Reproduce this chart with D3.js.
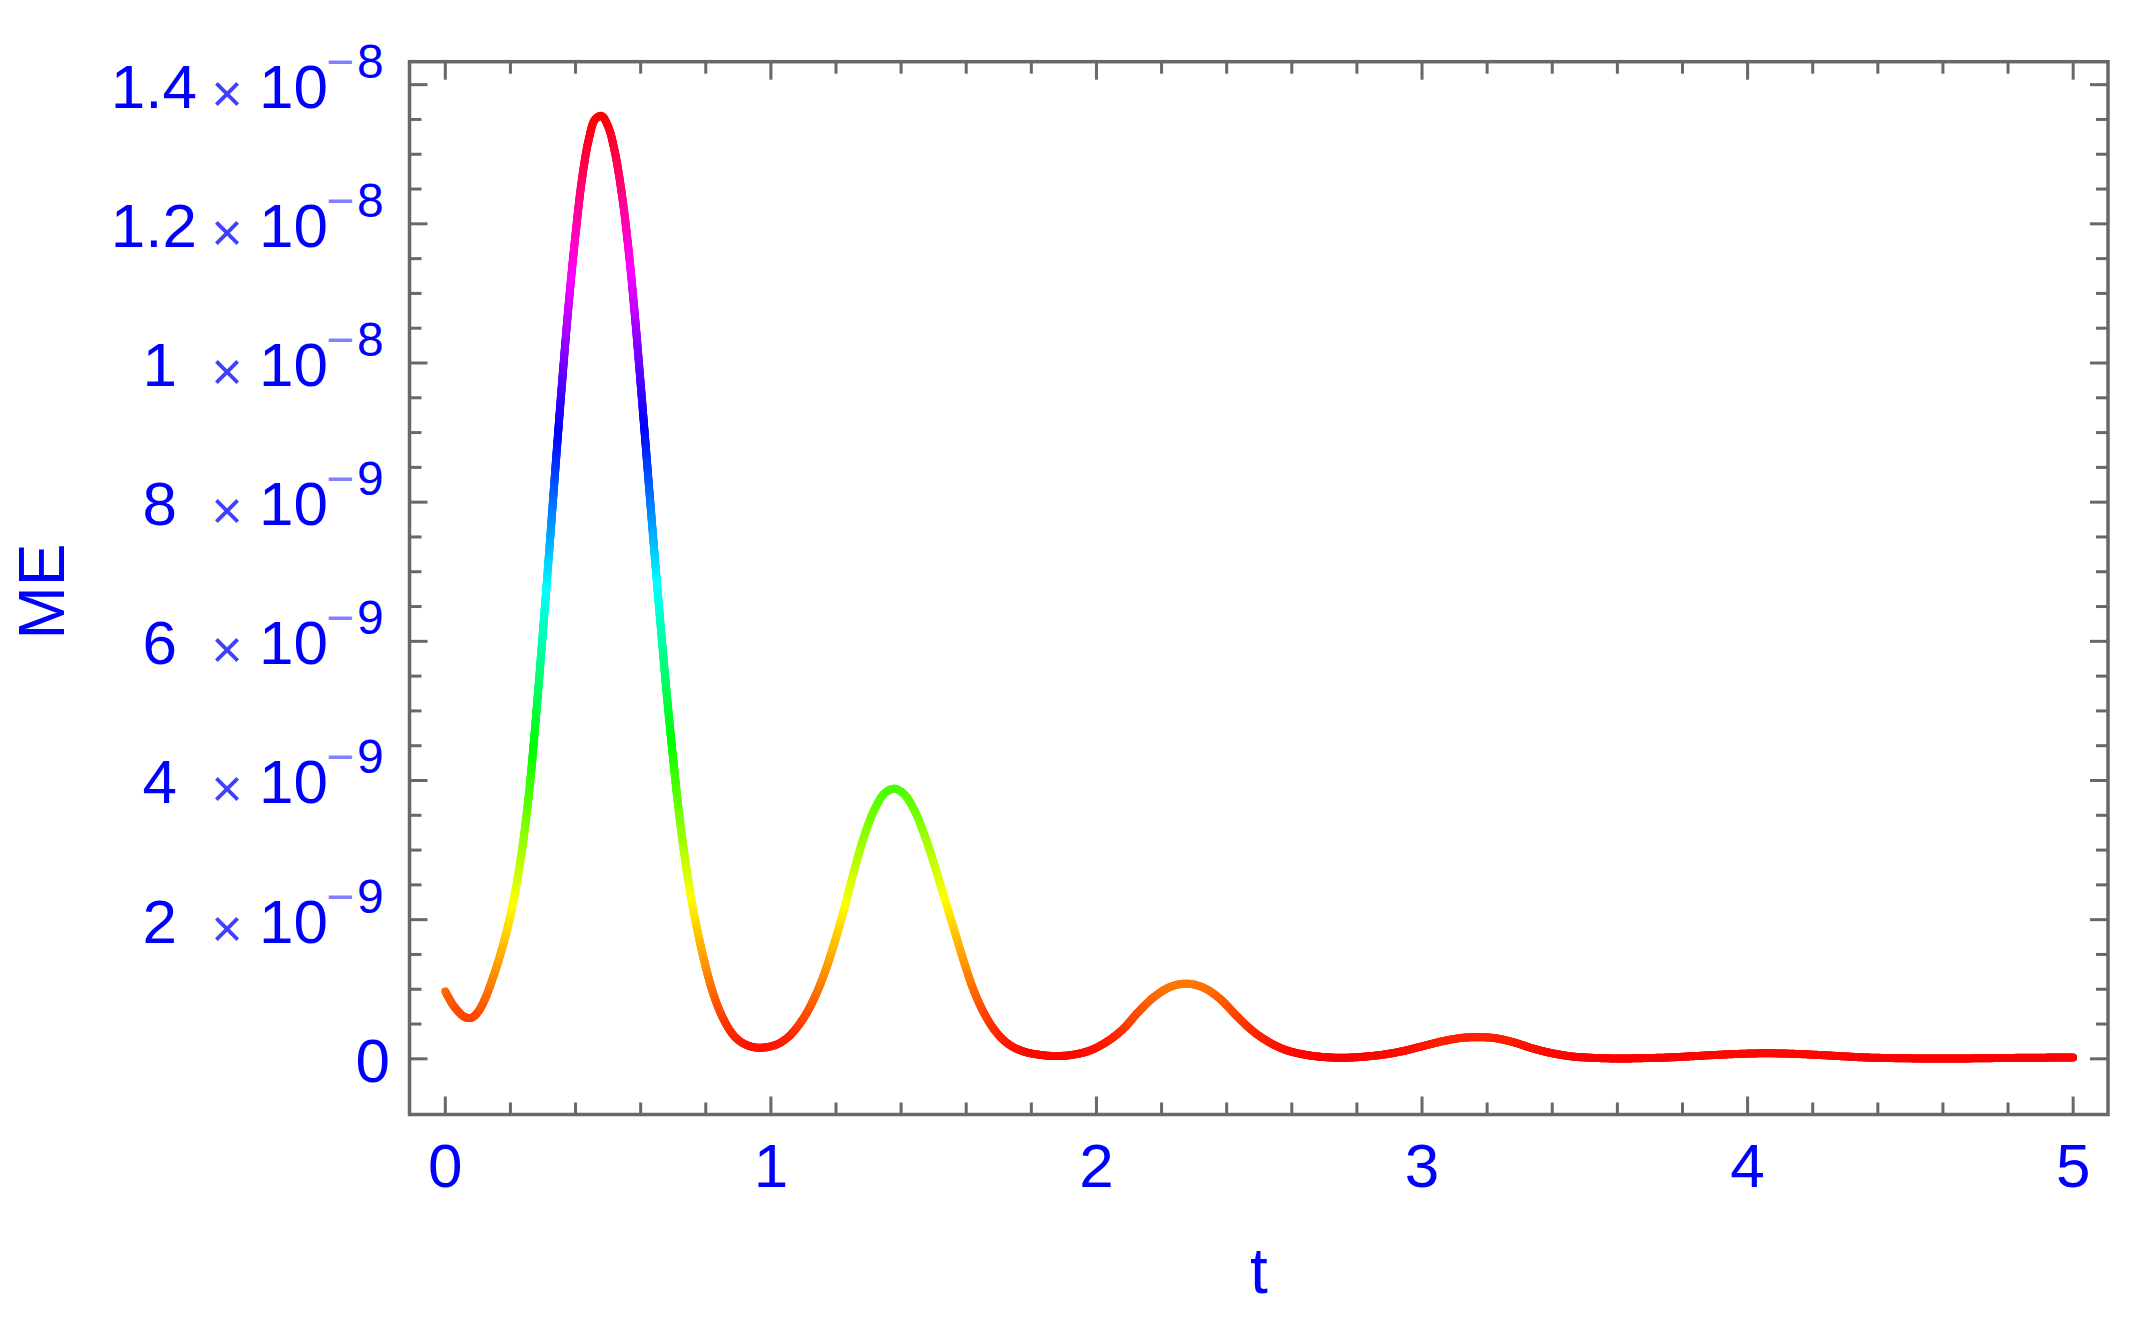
<!DOCTYPE html>
<html>
<head>
<meta charset="utf-8">
<script src="https://cdn.jsdelivr.net/npm/d3@7"></script>
<style>
  html, body { margin: 0; padding: 0; background: #ffffff; }
  svg { display: block; }
  text { font-family: "Liberation Sans", Arial, sans-serif; }
</style>
</head>
<body>
<script>
// ---- data ----
const tValues = [
  0.00, 0.02, 0.04, 0.06, 0.08, 0.10, 0.12, 0.14, 0.16, 0.18,
  0.20, 0.22, 0.24, 0.26, 0.28, 0.30, 0.32, 0.34, 0.36, 0.38,
  0.40, 0.42, 0.44, 0.46, 0.48, 0.50, 0.52, 0.54, 0.56, 0.58,
  0.60, 0.62, 0.64, 0.66, 0.68, 0.70, 0.72, 0.74, 0.76, 0.78,
  0.80, 0.82, 0.84, 0.86, 0.88, 0.90, 0.93, 0.96, 0.99, 1.02,
  1.05, 1.08, 1.11, 1.14, 1.17, 1.20, 1.23, 1.26, 1.29, 1.32,
  1.35, 1.38, 1.41, 1.44, 1.47, 1.50, 1.53, 1.56, 1.59, 1.62,
  1.65, 1.68, 1.71, 1.74, 1.78, 1.83, 1.88, 1.93, 1.98, 2.03,
  2.08, 2.13, 2.18, 2.23, 2.28, 2.33, 2.38, 2.43, 2.48, 2.53,
  2.58, 2.64, 2.70, 2.76, 2.82, 2.88, 2.94, 3.00, 3.06, 3.12,
  3.17, 3.22, 3.28, 3.34, 3.40, 3.46, 3.52, 3.60, 3.68, 3.76,
  3.84, 3.92, 4.00, 4.06, 4.12, 4.20, 4.28, 4.36, 4.45, 4.55,
  4.65, 4.75, 4.85, 5.00
];
const meValues = [
  0.97e-9, 0.80e-9, 0.68e-9, 0.60e-9, 0.59e-9, 0.67e-9, 0.84e-9, 1.08e-9, 1.36e-9, 1.68e-9,
  2.06e-9, 2.54e-9, 3.15e-9, 3.95e-9, 5.00e-9, 6.15e-9, 7.35e-9, 8.60e-9, 9.80e-9, 10.90e-9,
  11.85e-9, 12.65e-9, 13.20e-9, 13.50e-9, 13.55e-9, 13.40e-9, 13.05e-9, 12.50e-9, 11.75e-9, 10.80e-9,
  9.70e-9, 8.55e-9, 7.40e-9, 6.30e-9, 5.25e-9, 4.30e-9, 3.45e-9, 2.75e-9, 2.18e-9, 1.72e-9,
  1.32e-9, 0.98e-9, 0.72e-9, 0.52e-9, 0.37e-9, 0.27e-9, 0.19e-9, 0.16e-9, 0.17e-9, 0.21e-9,
  0.30e-9, 0.45e-9, 0.66e-9, 0.94e-9, 1.30e-9, 1.74e-9, 2.24e-9, 2.78e-9, 3.25e-9, 3.60e-9,
  3.82e-9, 3.88e-9, 3.80e-9, 3.58e-9, 3.24e-9, 2.82e-9, 2.36e-9, 1.90e-9, 1.44e-9, 1.02e-9,
  0.70e-9, 0.46e-9, 0.29e-9, 0.18e-9, 0.10e-9, 0.055e-9, 0.04e-9, 0.06e-9, 0.12e-9, 0.24e-9,
  0.42e-9, 0.68e-9, 0.90e-9, 1.04e-9, 1.08e-9, 1.02e-9, 0.86e-9, 0.62e-9, 0.40e-9, 0.24e-9,
  0.13e-9, 0.06e-9, 0.025e-9, 0.015e-9, 0.03e-9, 0.06e-9, 0.11e-9, 0.18e-9, 0.25e-9, 0.30e-9,
  0.31e-9, 0.30e-9, 0.24e-9, 0.15e-9, 0.08e-9, 0.035e-9, 0.015e-9, 0.005e-9, 0.01e-9, 0.02e-9,
  0.04e-9, 0.06e-9, 0.075e-9, 0.08e-9, 0.075e-9, 0.06e-9, 0.04e-9, 0.02e-9, 0.01e-9, 0.005e-9,
  0.005e-9, 0.01e-9, 0.015e-9, 0.02e-9
];

const xTickValues = [0, 1, 2, 3, 4, 5];
const xTickLabels = ["0", "1", "2", "3", "4", "5"];
const yTickValues = [0, 2e-9, 4e-9, 6e-9, 8e-9, 1e-8, 1.2e-8, 1.4e-8];
const yTickMantissas = ["0", "2", "4", "6", "8", "1", "1.2", "1.4"];
const yTickExponents = [null, "9", "9", "9", "9", "8", "8", "8"];
const xAxisTitle = "t";
const yAxisTitle = "ME";

// ---- layout ----
const W = 2132, H = 1317;
const frame = { left: 409.5, right: 2108, top: 61.7, bottom: 1114.5 };
const xDomain = [-0.11, 5.107];
const yDomain = [-0.8e-9, 14.33e-9];
const blue = "#0000ff";
const gray = "#686868";

const svg = d3.select("body").append("svg")
  .attr("width", W).attr("height", H)
  .attr("viewBox", `0 0 ${W} ${H}`);

svg.append("rect").attr("width", W).attr("height", H).attr("fill", "#ffffff");

const x = d3.scaleLinear().domain(xDomain).range([frame.left, frame.right]);
const y = d3.scaleLinear().domain(yDomain).range([frame.bottom, frame.top]);

// ---- colored curve (hue by value) ----
const data = tValues.map((t, i) => ({ t, v: meValues[i] }));
const vMin = d3.min(meValues), vMax = d3.max(meValues);
const hue = v => d3.hsl(360 * Math.max(0, Math.min(1, (v - vMin) / (vMax - vMin))), 1, 0.5).formatHex();

const line = d3.line().x(d => x(d.t)).y(d => y(d.v)).curve(d3.curveCatmullRom.alpha(0.5));
const guide = svg.append("path").attr("d", line(data)).attr("fill", "none").attr("stroke", "none");
const node = guide.node();
const total = node.getTotalLength();
const step = 1.5;
const pts = [];
for (let s = 0; s <= total; s += step) pts.push(node.getPointAtLength(s));
pts.push(node.getPointAtLength(total));
const segG = svg.append("g").attr("class", "curve");
for (let i = 0; i < pts.length - 1; i++) {
  const a = pts[i], b = pts[i + 1];
  const vm = y.invert((a.y + b.y) / 2);
  segG.append("line")
    .attr("x1", a.x).attr("y1", a.y).attr("x2", b.x).attr("y2", b.y)
    .attr("stroke", hue(vm))
    .attr("stroke-width", 8)
    .attr("stroke-linecap", "round");
}
guide.remove();

// ---- frame & ticks ----
const majorLen = 18, minorLen = 12;
const xMinor = d3.range(0, 5.0001, 0.2).filter(v => Math.abs(v - Math.round(v)) > 1e-6);
const yMinor = d3.range(0, 14.0001e-9, 0.5e-9).filter(v => Math.abs(v / 2e-9 - Math.round(v / 2e-9)) > 1e-6);

const fg = svg.append("g").attr("class", "frame");
function tickLine(x1, y1, x2, y2) {
  fg.append("line").attr("x1", x1).attr("y1", y1).attr("x2", x2).attr("y2", y2)
    .attr("stroke", gray).attr("stroke-width", 3);
}
xTickValues.forEach(v => {
  tickLine(x(v), frame.bottom, x(v), frame.bottom - majorLen);
  tickLine(x(v), frame.top, x(v), frame.top + majorLen);
});
xMinor.forEach(v => {
  tickLine(x(v), frame.bottom, x(v), frame.bottom - minorLen);
  tickLine(x(v), frame.top, x(v), frame.top + minorLen);
});
yTickValues.forEach(v => {
  tickLine(frame.left, y(v), frame.left + majorLen, y(v));
  tickLine(frame.right, y(v), frame.right - majorLen, y(v));
});
yMinor.forEach(v => {
  tickLine(frame.left, y(v), frame.left + minorLen, y(v));
  tickLine(frame.right, y(v), frame.right - minorLen, y(v));
});
fg.append("rect")
  .attr("x", frame.left).attr("y", frame.top)
  .attr("width", frame.right - frame.left).attr("height", frame.bottom - frame.top)
  .attr("fill", "none").attr("stroke", gray).attr("stroke-width", 3.5);

// ---- x tick labels ----
const lab = svg.append("g").attr("fill", blue);
xTickValues.forEach((v, i) => {
  lab.append("text")
    .attr("x", x(v)).attr("y", 1187)
    .attr("text-anchor", "middle")
    .attr("font-size", 62)
    .text(xTickLabels[i]);
});

// ---- y tick labels (one text element per label) ----
yTickValues.forEach((v, i) => {
  const ty = y(v);
  const m = yTickMantissas[i];
  const e = yTickExponents[i];
  if (e === null) {
    lab.append("text").attr("x", 390).attr("y", ty + 23)
      .attr("text-anchor", "end").attr("font-size", 62).text(m);
    return;
  }
  const txt = lab.append("text").attr("font-size", 62);
  const tm = txt.append("tspan").attr("y", ty + 23).text(m);
  const mw = tm.node().getComputedTextLength();
  tm.attr("x", (m.includes(".") ? 197 : 177) - mw);
  const tx = txt.append("tspan").attr("y", ty + 27).attr("font-size", 54)
    .attr("fill-opacity", 0.75).text("\u00d7");
  const xw = tx.node().getComputedTextLength();
  tx.attr("x", 227 - xw / 2);
  txt.append("tspan").attr("x", 259).attr("y", ty + 23).text("10");
  txt.append("tspan").attr("x", 326).attr("y", ty - 7).attr("font-size", 48)
    .attr("fill-opacity", 0.5).text("\u2212");
  txt.append("tspan").attr("x", 357).attr("y", ty - 7).attr("font-size", 48).text(e);
});

// ---- axis titles ----
lab.append("text")
  .attr("x", 1259).attr("y", 1293)
  .attr("text-anchor", "middle").attr("font-size", 64)
  .text(xAxisTitle);
lab.append("text")
  .attr("transform", "translate(64,591.5) rotate(-90)")
  .attr("text-anchor", "middle").attr("font-size", 64)
  .text(yAxisTitle);
</script>
</body>
</html>
